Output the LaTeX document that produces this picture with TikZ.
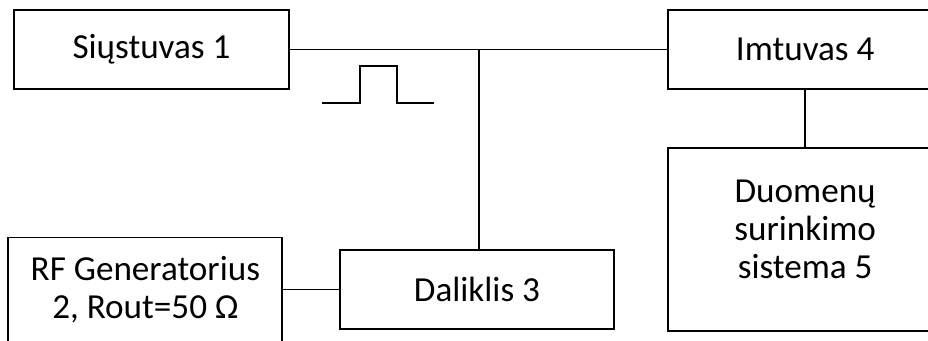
\documentclass[tikz,border=0pt]{standalone}
\usepackage{fontspec}
\setmainfont{Carlito}
\usepackage{tikz}
\usetikzlibrary{positioning}
\tikzset{block/.style={draw, line width=0.95pt, minimum width=5.5cm, minimum height=1.58cm, align=center, inner sep=1pt, font=\fontsize{20pt}{21.5pt}\selectfont}}
\tikzset{wire/.style={line width=0.95pt}}

\begin{document}
\begin{tikzpicture}[node distance=1.12cm]
\useasboundingbox (0,0) rectangle (18.56,6.8);
\clip (0,0) rectangle (18.56,6.8);
\node[block](siu) at (3.03,5.81){Siųstuvas 1};
\node[block](imt)[right=7.54cm of siu]{Imtuvas 4};
\node[block, minimum height=3.66cm](duo)[below=1.14cm of imt]{Duomenų\\surinkimo\\sistema 5\\[-10pt]};
\node[block, minimum width=5.48cm](dal) at (9.54,1.01){Daliklis 3};
\node[block, minimum width=5.48cm, minimum height=2.08cm](rf)[left=of dal]{RF Generatorius\\2, Rout=50 Ω};
\coordinate (tap) at (9.58,5.81);
\draw[wire] (siu) -- (imt);
\draw[wire] (tap) -- (tap |- dal.north);
\draw[wire] (imt) -- (duo);
\draw[wire] (rf) -- (dal);
% pulse
\draw[wire] (6.44,4.74) -- ++(0.76,0) -- ++(0,0.74) -- ++(0.74,0) -- ++(0,-0.74) -- ++(0.74,0);
\end{tikzpicture}
\end{document}
